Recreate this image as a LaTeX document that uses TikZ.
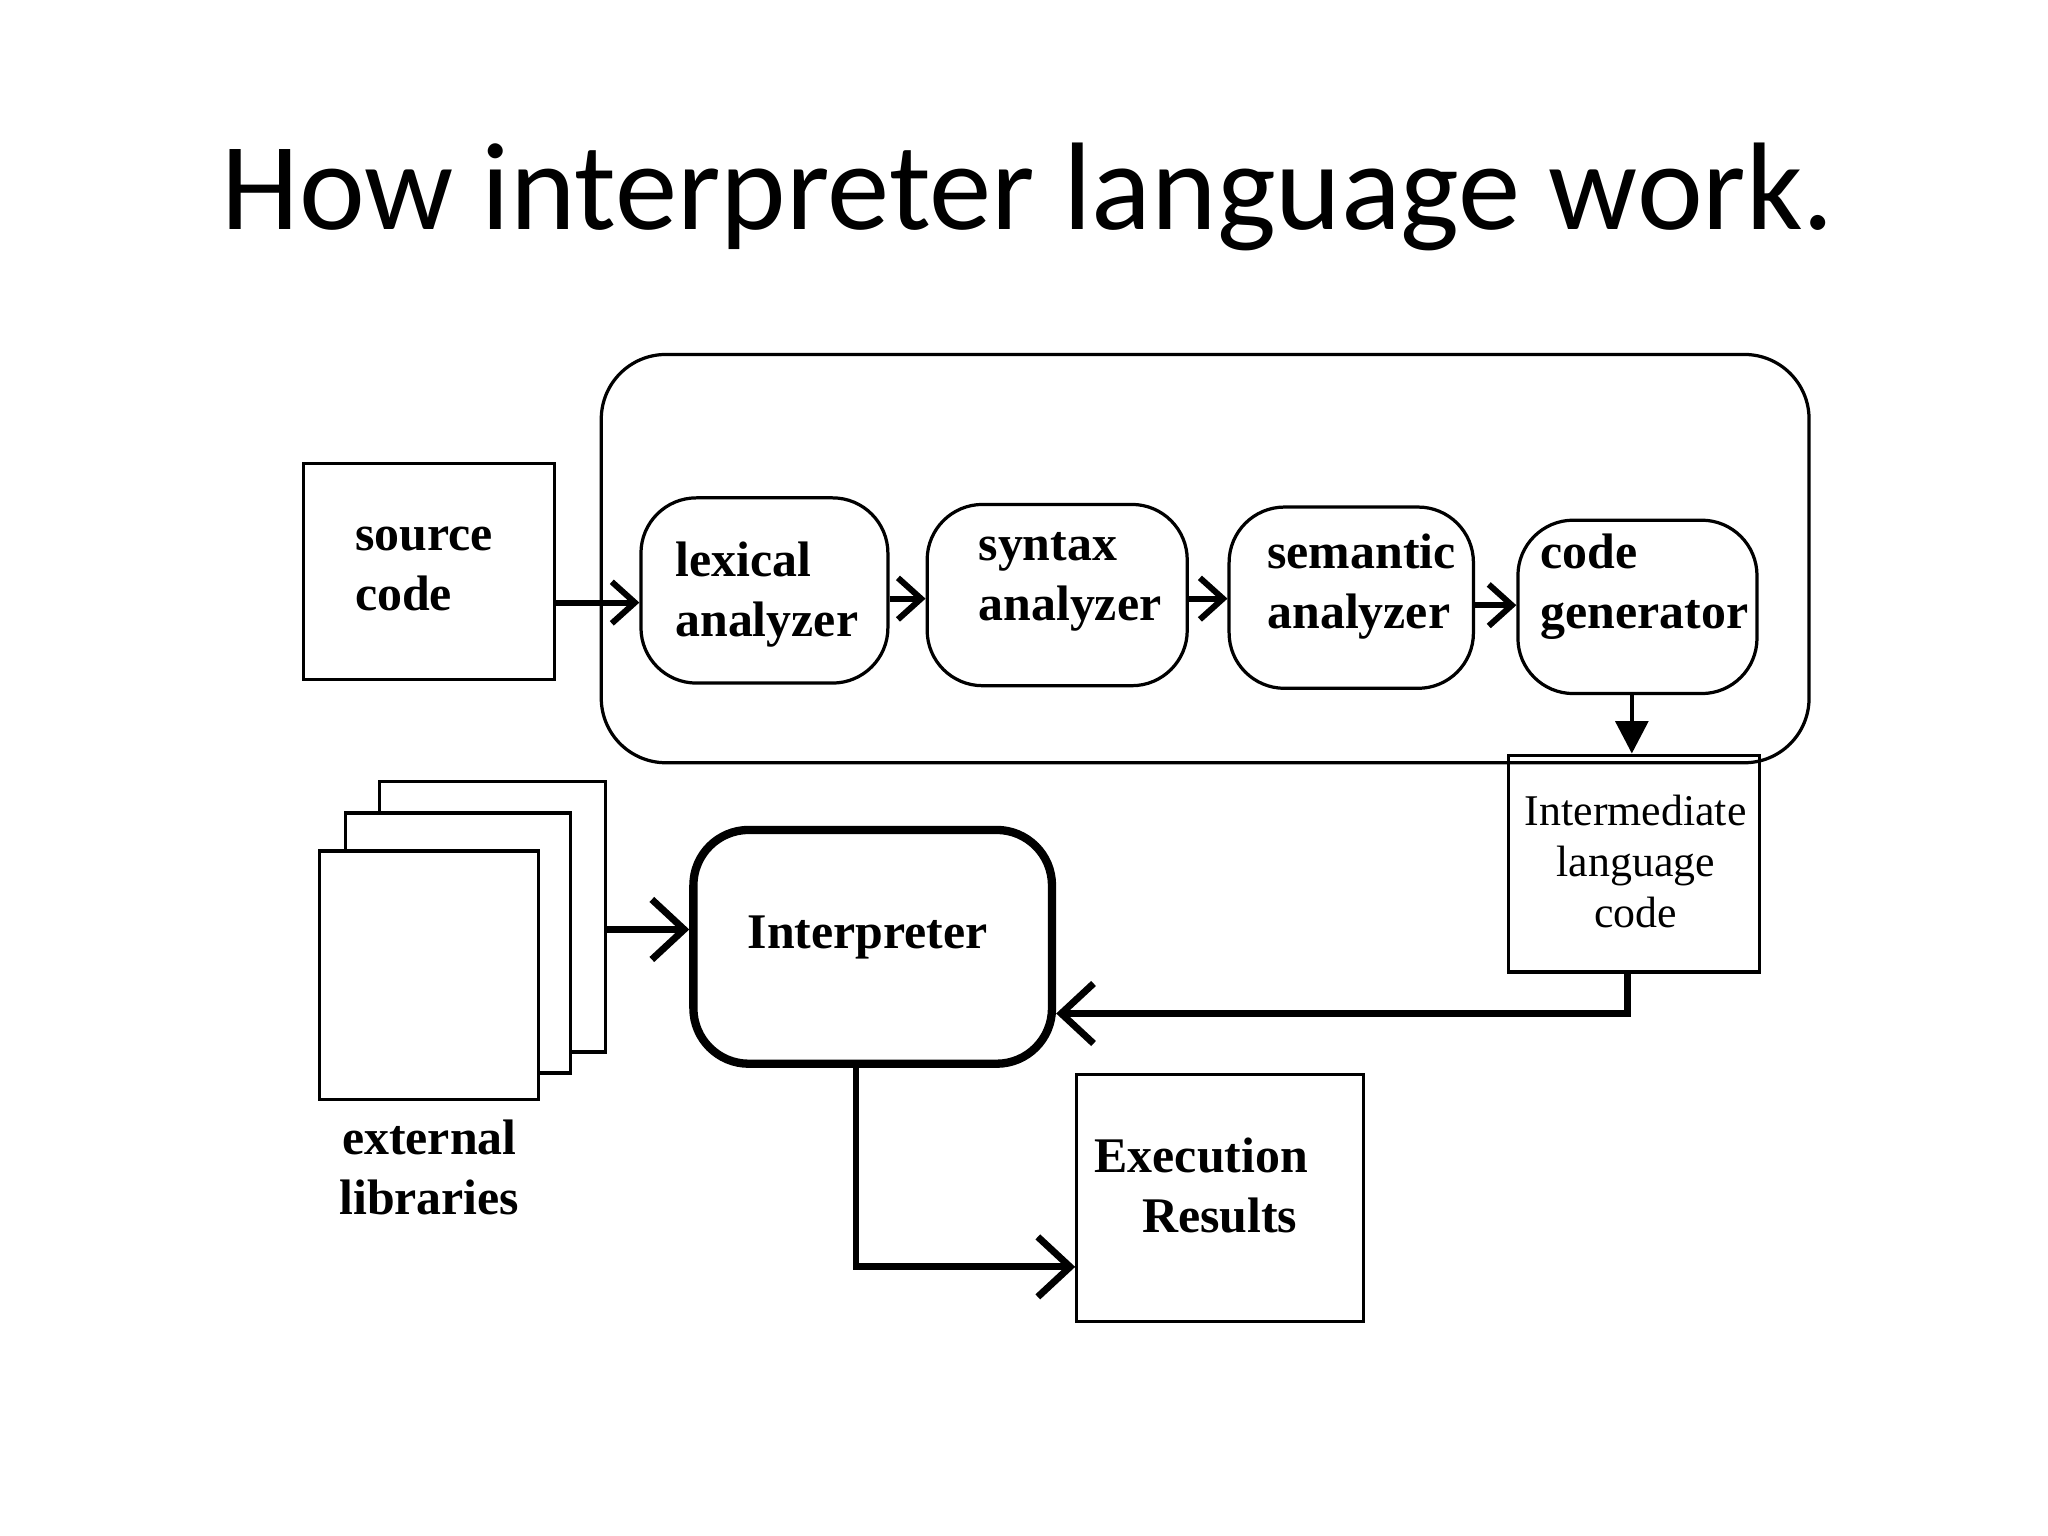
\documentclass[tikz,border=0pt]{standalone}
\usepackage{fontspec}
\setmainfont{Liberation Serif}
\newfontfamily\carl{Carlito}
\usetikzlibrary{arrows.meta}
\begin{document}
\begin{tikzpicture}[x=0.01cm,y=-0.01cm,
  thin box/.style={draw,line width=0.7pt,inner sep=0pt},
  lab/.style={font=\fontsize{10.8}{13}\selectfont\bfseries,align=left},
  arr/.style={line width=1.3pt,-{Straight Barb[length=5pt,width=9pt,line width=1.3pt]}},
  big/.style={line width=1.5pt,-{Straight Barb[length=7pt,width=13pt,line width=1.5pt]}}]
\useasboundingbox (0,0) rectangle (1560,1170);
\node[font=\carl\fontsize{27}{32}\selectfont] (title) at (783,150) {How interpreter language work.};
\draw[thin box,rounded corners=14] (458,270) rectangle (1378,581);
\node[thin box,minimum width=1.91cm,minimum height=1.64cm,anchor=north west] (src) at (230,352) {};
\node[lab,anchor=west] at (258,433) {source\\code};
\node[thin box,rounded corners=12,minimum width=1.88cm,minimum height=1.41cm,anchor=north west] (lex) at (487,378) {};
\node[lab,anchor=west] at (502,453) {lexical\\analyzer};
\node[thin box,rounded corners=12,minimum width=1.98cm,minimum height=1.38cm,anchor=north west] (syn) at (705,383) {};
\node[lab,anchor=west] at (733,443) {syntax\\analyzer};
\node[thin box,rounded corners=12,minimum width=1.86cm,minimum height=1.38cm,anchor=north west] (sem) at (935,385) {};
\node[lab,anchor=west] at (953,447) {semantic\\analyzer};
\node[thin box,rounded corners=12,minimum width=1.82cm,minimum height=1.32cm,anchor=north west] (gen) at (1155,395) {};
\node[lab,anchor=west] at (1161,447) {code\\generator};
\node[thin box,minimum width=1.91cm,minimum height=1.65cm,anchor=north west] (ilc) at (1148,574) {};
\node[font=\fontsize{9.5}{11}\selectfont,align=center] at (1246,656) {Intermediate\\language\\code};
\node[draw,line width=1.8pt,rounded corners=12,inner sep=0pt,minimum width=2.73cm,minimum height=1.78cm,anchor=north west] (int) at (525,629) {};
\node[lab] at (661,714) {Interpreter};
\node[thin box,fill=white,minimum width=1.72cm,minimum height=2.06cm,anchor=north west] (p3) at (288,594) {};
\node[thin box,fill=white,minimum width=1.71cm,minimum height=1.98cm,anchor=north west] (p2) at (262,618) {};
\node[thin box,fill=white,minimum width=1.67cm,minimum height=1.89cm,anchor=north west] (p1) at (242,647) {};
\node[lab,align=center] (ext) at (327,889) {external\\libraries};
\node[thin box,minimum width=2.18cm,minimum height=1.88cm,anchor=north west] (res) at (819,817) {};
\node[lab,align=center] at (915,903) {Execution\\\hspace*{8pt}Results};
\draw[arr] (src.east|-0,459) -- (lex.west|-0,459);
\draw[arr] (lex.east|-0,456) -- (syn.west|-0,456);
\draw[arr] (syn.east|-0,456) -- (sem.west|-0,456);
\draw[arr] (sem.east|-0,461) -- (gen.west|-0,461);
\draw[line width=1pt,-{Triangle[length=7pt,width=7pt]}] (gen.south-|1243,0) -- (ilc.north-|1243,0);
\draw[big] (p3.east|-0,708) -- (int.west|-0,708);
\draw[big] (ilc.south-|1240,0) -- (1240,772) -- (int.east|-0,772);
\draw[big] (int.south-|652,0) -- (652,965) -- (res.west|-0,965);
\end{tikzpicture}
\end{document}
